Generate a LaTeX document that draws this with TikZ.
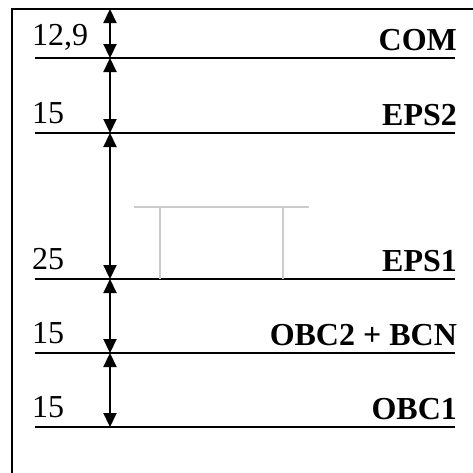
\documentclass[tikz,border=0pt]{standalone}
\usepackage{fontspec}
\setmainfont{Liberation Serif}
\usetikzlibrary{arrows.meta,positioning}

\begin{document}
\begin{tikzpicture}[x=0.5pt,y=-0.5pt,line width=1.1pt,
    >={Triangle[length=7pt,width=6.5pt]},
    every node/.style={inner sep=0pt,font=\fontsize{16}{19}\selectfont}]
    \useasboundingbox (0,0) rectangle (473,473);
    \draw (12,9) rectangle (500,500);

    % levels on the dimension line
    \foreach \n/\y in {0/9,1/58,2/133,3/279,4/353,5/427}
        \coordinate (lev\n) at (110,\y);

    \foreach \y in {58,133,279,353,427}
        \draw (35,\y)--(455,\y);

    \foreach \from/\to in {lev0/lev1,lev1/lev2,lev2/lev3,lev3/lev4,lev4/lev5}
        \draw[<->] (\from)--(\to);

    % heights
    \node[anchor=base west] (val1) at (31,45) {12,9};
    \node[anchor=base west] (val2) at (31,123) {15};
    \node[anchor=base west] (val3) at (31,269) {25};
    \node[anchor=base west] (val4) at (31,343) {15};
    \node[anchor=base west] (val5) at (31,417) {15};

    % boards
    \node[anchor=base east,font=\fontsize{16}{19}\selectfont\bfseries] (com) at (458,50) {COM};
    \node[anchor=base east,font=\fontsize{16}{19}\selectfont\bfseries] (eps2) at (458,125) {EPS2};
    \node[anchor=base east,font=\fontsize{16}{19}\selectfont\bfseries] (eps1) at (458,271) {EPS1};
    \node[anchor=base east,font=\fontsize{16}{19}\selectfont\bfseries] (obc2) at (458,345) {OBC2 + BCN};
    \node[anchor=base east,font=\fontsize{16}{19}\selectfont\bfseries] (obc1) at (458,419) {OBC1};

    \draw[black!20] (134,207)--(309,207);
    \draw[black!20] (160,207)--(160,279);
    \draw[black!20] (283,207)--(283,279);
\end{tikzpicture}
\end{document}
